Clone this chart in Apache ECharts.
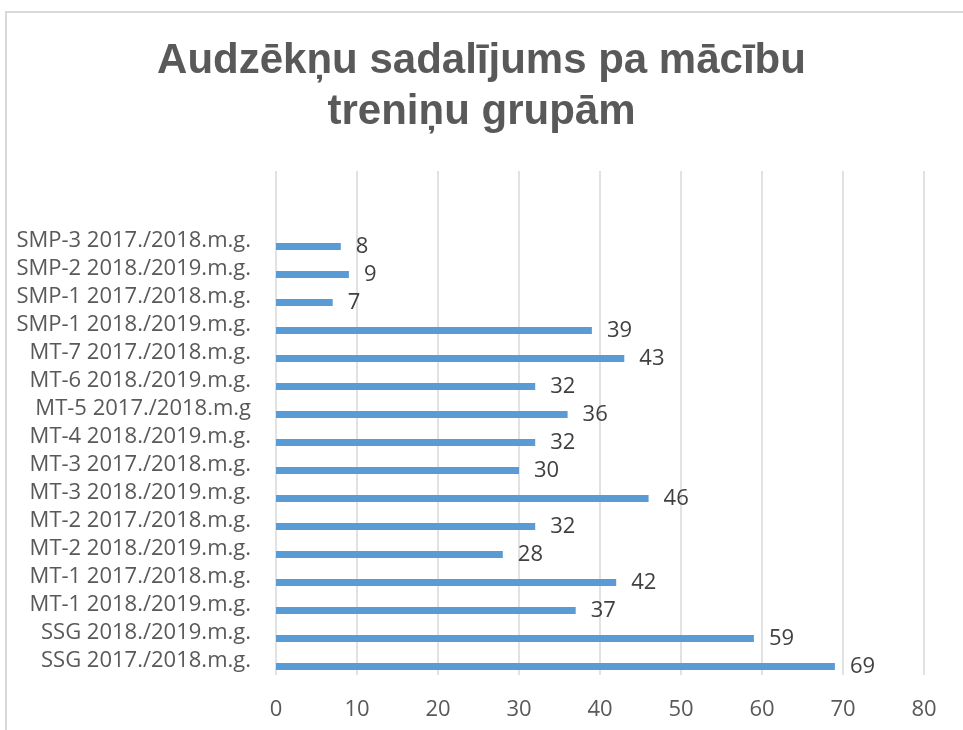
<!DOCTYPE html>
<html>
<head>
<meta charset="utf-8">
<script src="https://cdn.jsdelivr.net/npm/echarts@6/dist/echarts.min.js"></script>
<style>
html,body{margin:0;padding:0;background:#fff;}
#chart{width:963px;height:730px;}
</style>
</head>
<body>
<div id="chart"></div>
<script>
// Categories listed bottom to top
var categories = [
  'SSG 2017./2018.m.g.',
  'SSG 2018./2019.m.g.',
  'MT-1 2018./2019.m.g.',
  'MT-1 2017./2018.m.g.',
  'MT-2 2018./2019.m.g.',
  'MT-2 2017./2018.m.g.',
  'MT-3 2018./2019.m.g.',
  'MT-3 2017./2018.m.g.',
  'MT-4 2018./2019.m.g.',
  'MT-5 2017./2018.m.g',
  'MT-6 2018./2019.m.g.',
  'MT-7 2017./2018.m.g.',
  'SMP-1 2018./2019.m.g.',
  'SMP-1 2017./2018.m.g.',
  'SMP-2 2018./2019.m.g.',
  'SMP-3 2017./2018.m.g.'
];
var values = [69, 59, 37, 42, 28, 32, 46, 30, 32, 36, 32, 43, 39, 7, 9, 8];
var emptySlots = ['', ''];
var xTicks = { min: 0, max: 80, interval: 10 };
var titleText = 'Audzēkņu sadalījums pa mācību\ntreniņu grupām';

var chart = echarts.init(document.getElementById('chart'), null, {renderer: 'canvas'});
var FONT = '"Open Sans", sans-serif';
chart.setOption({
  backgroundColor: '#ffffff',
  animation: false,
  graphic: [{
    type: 'rect',
    shape: { x: 6, y: 12, width: 1100, height: 900 },
    style: { fill: 'none', stroke: '#d9d9d9', lineWidth: 2 },
    z: -10
  }],
  title: {
    text: titleText,
    left: 'center',
    top: 31,
    textStyle: {
      fontFamily: '"Liberation Sans", Arial, sans-serif',
      fontWeight: 'bold',
      fontSize: 42,
      lineHeight: 51,
      color: '#595959'
    }
  },
  grid: { left: 276, right: 39, top: 171, bottom: 55, containLabel: false },
  xAxis: {
    type: 'value',
    min: xTicks.min, max: xTicks.max, interval: xTicks.interval,
    axisLine: { show: false },
    axisTick: { show: false },
    splitLine: { show: true, lineStyle: { color: '#d9d9d9', width: 1.5 } },
    axisLabel: { margin: 24, fontFamily: FONT, fontSize: 22, color: '#595959' }
  },
  yAxis: {
    type: 'category',
    data: categories.concat(emptySlots),
    axisLine: { show: false },
    axisTick: { show: false },
    splitLine: { show: false },
    axisLabel: { margin: 25, fontFamily: FONT, fontSize: 22, color: '#595959', padding: [12, 0, 0, 0], interval: 0 }
  },
  series: [
    {
      type: 'bar',
      name: 'pad',
      data: [],
      barWidth: 7,
      barGap: '60%'
    },
    {
      type: 'bar',
      name: 'Audzēkņi',
      data: values,
      barWidth: 7,
      barGap: '60%',
      itemStyle: { color: '#5b9bd5' },
      label: {
        show: true,
        position: 'right',
        distance: 15,
        fontFamily: FONT,
        fontSize: 22,
        color: '#404040',
        padding: [6, 0, 0, 0]
      }
    }
  ]
});
</script>
</body>
</html>
